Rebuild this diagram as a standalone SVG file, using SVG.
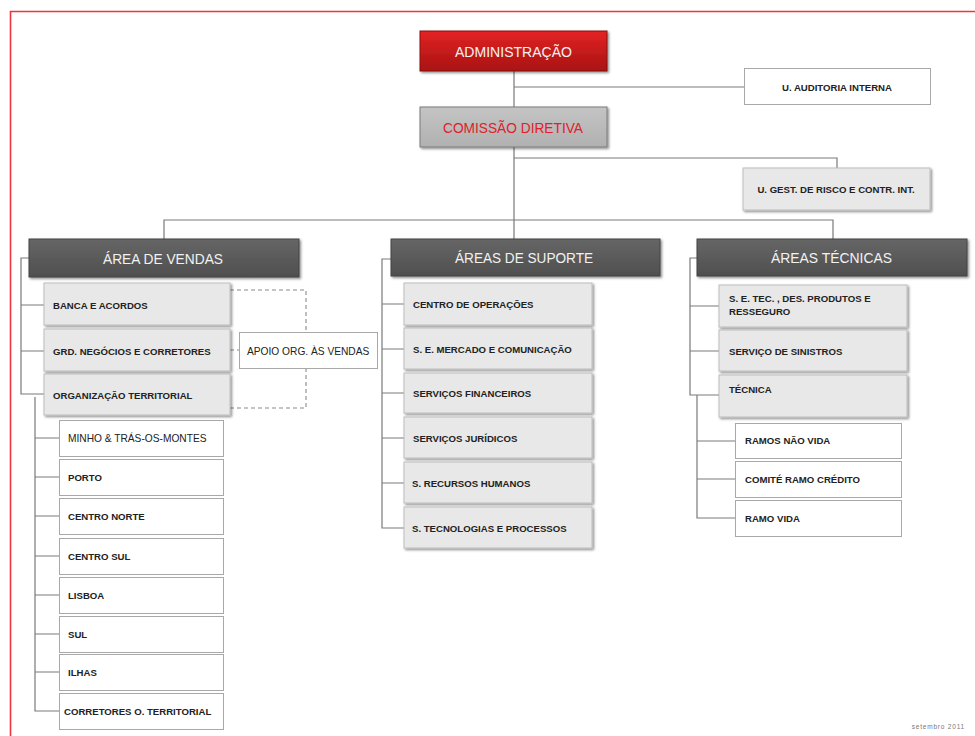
<svg xmlns="http://www.w3.org/2000/svg" width="975" height="736" viewBox="0 0 975 736">
<defs>
<linearGradient id="gRed" x1="0" y1="0" x2="0" y2="1"><stop offset="0" stop-color="#e42424"/><stop offset="1" stop-color="#a81212"/></linearGradient>
<linearGradient id="gDark" x1="0" y1="0" x2="0" y2="1"><stop offset="0" stop-color="#666"/><stop offset="1" stop-color="#4f4f4f"/></linearGradient>
<linearGradient id="gGray" x1="0" y1="0" x2="0" y2="1"><stop offset="0" stop-color="#c4c4c4"/><stop offset="1" stop-color="#b0b0b0"/></linearGradient>
<filter id="sh" x="-10%" y="-20%" width="120%" height="150%"><feDropShadow dx="1.5" dy="1.5" stdDeviation="0.8" flood-color="#000" flood-opacity="0.45"/></filter>
</defs>
<style>
.lbl{font-family:"Liberation Sans",Arial,sans-serif;font-weight:bold;font-size:9.6px;fill:#222}
.hd{font-family:"Liberation Sans",Arial,sans-serif;font-size:15px;fill:#f2f2f2}
.lg{fill:#e8e8e8;stroke:#bdbdbd;stroke-width:1;filter:url(#sh)}
.wh{fill:#fff;stroke:#a8a8a8;stroke-width:1}
.dk{fill:url(#gDark);stroke:#444;stroke-width:1;filter:url(#sh)}
.ln{fill:none;stroke:#7a7a7a;stroke-width:1.2}
.ds{fill:none;stroke:#8a8a8a;stroke-width:1.1;stroke-dasharray:4 3}
</style>
<rect width="975" height="736" fill="#fff"/>
<path d="M10.5 740 V11.5 H975" fill="none" stroke="#f2323c" stroke-width="1.6"/>

<g id="connectors">
<path class="ln" d="M514 71 V107 M514 87 H745"/>
<path class="ln" d="M514 147 V239 M514 158 H837 V168"/>
<path class="ln" d="M164 239 V220 H833 V239"/>
<path class="ln" d="M29 258 H21 V394 H44 M21 305 H44 M21 351 H44"/>
<path class="ln" d="M35 397 V711 H59 M35 438 H59 M35 477 H59 M35 516 H59 M35 556 H59 M35 595 H59 M35 634 H59 M35 672 H59"/>
<path class="ln" d="M391 259 H382 V528 H405 M382 304 H405 M382 349 H405 M382 393 H405 M382 438 H405 M382 483 H405"/>
<path class="ln" d="M697 258 H690 V395 H720 M690 306 H720 M690 351 H720"/>
<path class="ln" d="M697 395 V518 H735 M697 441 H735 M697 479 H735"/>
<path class="ds" d="M230 290 H306 V332 M306 368 V408 H230 M230 350 H239"/>
</g>

<g id="administracao">
<rect x="420" y="31" width="187" height="40" fill="url(#gRed)" stroke="#8a0e0e" filter="url(#sh)"/>
<text class="hd" x="455" y="56.5" textLength="117" lengthAdjust="spacingAndGlyphs" fill="#eee">ADMINISTRAÇÃO</text>
</g>
<g id="auditoria">
<rect class="wh" x="744.5" y="68.5" width="186" height="36"/>
<text class="lbl" x="837" y="90.5" text-anchor="middle">U. AUDITORIA INTERNA</text>
</g>
<g id="comissao">
<rect x="420" y="107" width="187" height="40" fill="url(#gGray)" stroke="#7a7a7a" filter="url(#sh)"/>
<text class="hd" x="443" y="132.5" textLength="140" lengthAdjust="spacingAndGlyphs" style="fill:#e0202a">COMISSÃO DIRETIVA</text>
</g>
<g id="gestrisco">
<rect class="lg" x="743" y="168" width="187" height="42"/>
<text class="lbl" x="836" y="192.5" text-anchor="middle">U. GEST. DE RISCO E CONTR. INT.</text>
</g>

<g id="area-vendas">
<rect class="dk" x="29" y="239" width="270" height="38"/>
<text class="hd" x="103" y="263.5" textLength="120" lengthAdjust="spacingAndGlyphs">ÁREA DE VENDAS</text>
</g>
<g id="banca"><rect class="lg" x="44" y="283" width="186" height="42"/><text class="lbl" x="53" y="308.5">BANCA E ACORDOS</text></g>
<g id="grd"><rect class="lg" x="44" y="329" width="186" height="42"/><text class="lbl" x="53" y="354.5">GRD. NEGÓCIOS E CORRETORES</text></g>
<g id="org"><rect class="lg" x="44" y="374" width="186" height="41"/><text class="lbl" x="53" y="398.5">ORGANIZAÇÃO TERRITORIAL</text></g>
<g id="apoio"><rect class="wh" x="239.5" y="332.5" width="138" height="36"/><text class="lbl" x="247" y="354.5" style="font-weight:normal;font-size:10.2px">APOIO ORG. ÀS VENDAS</text></g>

<g id="minho"><rect class="wh" x="59.5" y="420.5" width="164" height="36"/><text class="lbl" x="68" y="441.5" style="font-weight:normal;font-size:10.2px">MINHO &amp; TRÁS-OS-MONTES</text></g>
<g id="porto"><rect class="wh" x="59.5" y="459.5" width="164" height="36"/><text class="lbl" x="68" y="480.5">PORTO</text></g>
<g id="centro-norte"><rect class="wh" x="59.5" y="498.5" width="164" height="36"/><text class="lbl" x="68" y="519.5">CENTRO NORTE</text></g>
<g id="centro-sul"><rect class="wh" x="59.5" y="538.5" width="164" height="36"/><text class="lbl" x="68" y="559.5">CENTRO SUL</text></g>
<g id="lisboa"><rect class="wh" x="59.5" y="577.5" width="164" height="36"/><text class="lbl" x="68" y="598.5">LISBOA</text></g>
<g id="sul"><rect class="wh" x="59.5" y="616.5" width="164" height="36"/><text class="lbl" x="68" y="637.5">SUL</text></g>
<g id="ilhas"><rect class="wh" x="59.5" y="654.5" width="164" height="36"/><text class="lbl" x="68" y="675.5">ILHAS</text></g>
<g id="corretores-ot"><rect class="wh" x="59.5" y="693.5" width="164" height="36"/><text class="lbl" x="64" y="714.5">CORRETORES O. TERRITORIAL</text></g>

<g id="areas-suporte">
<rect class="dk" x="391" y="239" width="269" height="37"/>
<text class="hd" x="455" y="263" textLength="138" lengthAdjust="spacingAndGlyphs">ÁREAS DE SUPORTE</text>
</g>
<g id="centro-op"><rect class="lg" x="404" y="283" width="188" height="42"/><text class="lbl" x="413" y="308">CENTRO DE OPERAÇÕES</text></g>
<g id="se-mercado"><rect class="lg" x="404" y="328" width="188" height="41"/><text class="lbl" x="413" y="352.5">S. E. MERCADO E COMUNICAÇÃO</text></g>
<g id="serv-fin"><rect class="lg" x="404" y="373" width="188" height="40"/><text class="lbl" x="413" y="397">SERVIÇOS FINANCEIROS</text></g>
<g id="serv-jur"><rect class="lg" x="404" y="417" width="188" height="41"/><text class="lbl" x="413" y="441.5">SERVIÇOS JURÍDICOS</text></g>
<g id="rec-hum"><rect class="lg" x="404" y="462" width="188" height="41"/><text class="lbl" x="412" y="486.5">S. RECURSOS HUMANOS</text></g>
<g id="tec-proc"><rect class="lg" x="404" y="507" width="188" height="41"/><text class="lbl" x="412" y="531.5">S. TECNOLOGIAS E PROCESSOS</text></g>

<g id="areas-tecnicas">
<rect class="dk" x="697" y="239" width="270" height="37"/>
<text class="hd" x="771" y="263" textLength="121" lengthAdjust="spacingAndGlyphs">ÁREAS TÉCNICAS</text>
</g>
<g id="se-tec"><rect class="lg" x="719" y="285" width="188" height="42"/><text class="lbl" x="729" y="302">S. E. TEC. , DES. PRODUTOS E</text><text class="lbl" x="729" y="314.5">RESSEGURO</text></g>
<g id="sinistros"><rect class="lg" x="719" y="330" width="188" height="41"/><text class="lbl" x="729" y="355">SERVIÇO DE SINISTROS</text></g>
<g id="tecnica"><rect class="lg" x="719" y="375" width="188" height="42"/><text class="lbl" x="729" y="392.5">TÉCNICA</text></g>
<g id="ramos-nao-vida"><rect class="wh" x="735.5" y="423.5" width="166" height="35"/><text class="lbl" x="745" y="444">RAMOS NÃO VIDA</text></g>
<g id="comite"><rect class="wh" x="735.5" y="461.5" width="166" height="36"/><text class="lbl" x="745" y="482.5">COMITÉ RAMO CRÉDITO</text></g>
<g id="ramo-vida"><rect class="wh" x="735.5" y="500.5" width="166" height="36"/><text class="lbl" x="745" y="521.5">RAMO VIDA</text></g>

<text x="965" y="729" text-anchor="end" font-family="Liberation Sans, Arial, sans-serif" font-size="6.5" letter-spacing="0.8" fill="#777">setembro 2011</text>
</svg>
